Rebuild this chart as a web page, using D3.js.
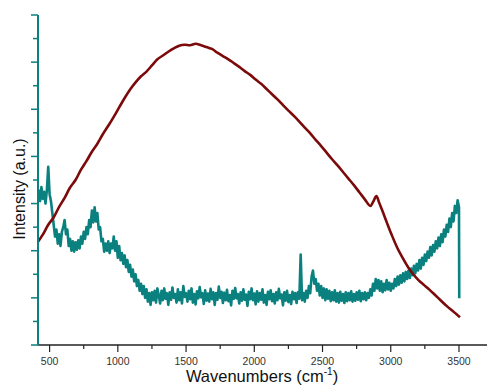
<!DOCTYPE html>
<html><head><meta charset="utf-8">
<script src="https://cdn.jsdelivr.net/npm/d3@7"></script>
<style>body{margin:0;background:#fff}svg{display:block}text{font-family:"Liberation Sans",Arial,sans-serif}</style>
</head><body>
<script>
// x-axis tick values
const xTicks = [500, 1000, 1500, 2000, 2500, 3000, 3500];
// red spectrum: [wavenumber, intensity]
const redSeries = [[415,2.19],[450,2.34],[490,2.55],[530,2.71],[570,2.93],[610,3.12],[650,3.34],[690,3.50],[730,3.72],[770,3.90],[810,4.10],[850,4.27],[890,4.47],[930,4.65],[970,4.84],[1010,5.04],[1050,5.24],[1090,5.42],[1130,5.57],[1170,5.70],[1210,5.80],[1250,5.93],[1290,6.06],[1330,6.14],[1370,6.22],[1410,6.29],[1450,6.35],[1490,6.37],[1530,6.36],[1570,6.39],[1610,6.36],[1650,6.32],[1690,6.28],[1730,6.20],[1770,6.13],[1810,6.06],[1850,5.98],[1890,5.90],[1930,5.81],[1970,5.73],[2010,5.63],[2050,5.54],[2090,5.43],[2130,5.32],[2170,5.21],[2210,5.09],[2250,4.97],[2290,4.86],[2330,4.74],[2370,4.61],[2410,4.49],[2450,4.35],[2490,4.22],[2530,4.08],[2570,3.94],[2610,3.81],[2650,3.67],[2690,3.53],[2730,3.39],[2770,3.24],[2810,3.09],[2850,2.95],[2870,3.03],[2895,3.16],[2915,3.02],[2945,2.80],[2975,2.57],[3005,2.35],[3045,2.08],[3085,1.86],[3125,1.66],[3165,1.50],[3205,1.37],[3245,1.27],[3285,1.17],[3325,1.06],[3365,0.95],[3405,0.84],[3445,0.74],[3480,0.66],[3507,0.59]];
// teal spectrum: intensities sampled every 10 cm-1 from 420 cm-1
const tealStart = 420, tealStep = 10;
const tealValues = [
3.30,3.05,3.35,3.10,3.25,3.00,3.28,3.78,3.20,3.05,2.80,2.55,2.30,2.45,2.15,2.35,2.10,2.40,2.50,2.65,
2.35,2.45,2.10,2.25,2.00,2.20,1.98,2.18,2.02,2.22,2.05,2.30,2.15,2.40,2.25,2.50,2.35,2.65,2.50,2.85,
2.60,2.92,2.62,2.80,2.45,2.50,2.20,2.25,1.98,2.15,2.00,2.20,1.95,2.15,2.05,2.30,2.00,2.20,1.85,2.10,
1.80,1.95,1.72,1.90,1.65,1.80,1.55,1.70,1.45,1.60,1.35,1.50,1.25,1.38,1.15,1.30,1.08,1.25,1.00,1.18,
0.92,1.10,0.85,1.12,0.95,1.15,0.90,1.20,
1.05,0.88,1.15,0.95,1.20,0.98,1.10,0.85,1.12,0.96,1.22,1.00,1.08,0.90,1.18,0.95,1.12,0.88,1.25,1.02,
1.10,0.92,1.15,0.97,1.20,0.90,1.08,0.86,1.14,0.99,1.23,1.01,1.10,0.87,1.16,0.94,1.09,0.92,1.19,0.97,
1.12,0.85,1.10,0.96,1.24,1.00,1.13,0.89,1.11,0.95,1.17,0.93,1.06,0.84,1.15,0.98,1.21,0.99,1.08,0.88,
1.12,0.94,1.18,0.96,1.07,0.83,1.13,0.97,1.20,0.95,1.09,0.86,1.14,0.92,1.10,0.96,1.18,0.90,1.06,0.85,
1.13,0.97,1.16,0.93,1.08,0.88,1.12,0.95,1.19,0.99,1.07,0.84,1.12,0.94,1.15,0.91,1.06,0.87,1.13,0.97,
1.10,0.89,1.12,0.98,1.92,0.95,
1.10,0.92,1.15,1.00,1.25,1.10,1.45,1.58,1.30,1.40,1.15,1.30,1.05,1.25,1.00,1.20,0.95,
1.18,0.98,1.15,0.93,1.12,0.95,1.16,0.92,1.10,0.90,1.13,0.94,1.08,0.89,1.12,0.93,1.10,0.95,1.14,0.92,
1.08,0.94,1.12,0.96,1.15,0.93,1.10,0.97,1.12,0.95,1.10,1.00,1.18,1.05,1.30,1.15,1.40,1.20,1.38,1.15,
1.35,1.12,1.30,1.16,1.38,1.18,1.32,1.15,1.30,1.20,1.40,1.25,1.45,1.28,1.48,1.32,1.52,1.35,1.55,1.40,
1.58,1.42,1.62,1.48,1.68,1.52,1.72,1.58,1.80,1.62,1.85,1.70,1.92,1.78,1.98,1.85,2.08,1.90,2.12,1.98,
2.20,2.05,2.28,2.10,2.35,2.18,2.45,2.30,2.55,2.40,2.68,2.50,2.80,2.62,2.95,2.80,3.07,2.92];
const tealEnd = [3502, 0.99];

const W = 487, H = 387;
const svg = d3.select("body").append("svg").attr("width", W).attr("height", H);
const x = d3.scaleLinear().domain([415, 3720]).range([38, 489]);
const y = d3.scaleLinear().domain([0, 7]).range([345, 15]);

const teal = "#0a807f", red = "#7c0a0a";
const tealData = tealValues.map((v, i) => [tealStart + i * tealStep, v]).concat([tealEnd]);
const line = d3.line().x(d => x(d[0])).y(d => y(d[1]));

svg.append("path").datum(tealData).attr("d", line)
  .attr("fill", "none").attr("stroke", teal).attr("stroke-width", 2.6).attr("stroke-linejoin", "round");
svg.append("path").datum(redSeries).attr("d", line.curve(d3.curveCatmullRom))
  .attr("fill", "none").attr("stroke", red).attr("stroke-width", 2.6).attr("stroke-linejoin", "round");

// X axis
const gx = svg.append("g").attr("transform", "translate(0,345)");
gx.append("line").attr("x1", 38).attr("x2", 489).attr("stroke", "#222").attr("stroke-width", 1.5);
const xMinor = d3.range(750, 3800, 500);
gx.selectAll(".mn").data(xMinor).join("line").attr("x1", d => x(d)).attr("x2", d => x(d))
  .attr("y1", 0).attr("y2", 4).attr("stroke", "#222").attr("stroke-width", 1.2);
gx.selectAll(".mj").data(xTicks).join("line").attr("x1", d => x(d)).attr("x2", d => x(d))
  .attr("y1", 0).attr("y2", 7).attr("stroke", "#222").attr("stroke-width", 1.2);
gx.selectAll(".lb").data(xTicks).join("text").attr("x", d => x(d)).attr("y", 20)
  .attr("text-anchor", "middle").attr("font-size", 10.5).attr("fill", "#333").text(d => d);

const xt = svg.append("text").attr("x", 262).attr("y", 382).attr("text-anchor", "middle")
  .attr("font-size", 16.5).attr("fill", "#111");
xt.append("tspan").text("Wavenumbers (cm");
xt.append("tspan").attr("dy", -7).attr("font-size", 10).text("-1");
xt.append("tspan").attr("dy", 7).text(")");

// Y axis
const gy = svg.append("g");
gy.append("line").attr("x1", 38).attr("x2", 38).attr("y1", 15).attr("y2", 345).attr("stroke", teal).attr("stroke-width", 2);
const yTicks = d3.range(0, 7.01, 0.5);
gy.selectAll(".yt").data(yTicks).join("line")
  .attr("x1", d => (d % 1 === 0 ? 31 : 33)).attr("x2", 38)
  .attr("y1", d => y(d)).attr("y2", d => y(d)).attr("stroke", teal).attr("stroke-width", 1.5);

svg.append("text").attr("transform", "translate(25,189) rotate(-90)").attr("text-anchor", "middle")
  .attr("font-size", 16).attr("fill", "#111").text("Intensity (a.u.)");
</script>
</body></html>
